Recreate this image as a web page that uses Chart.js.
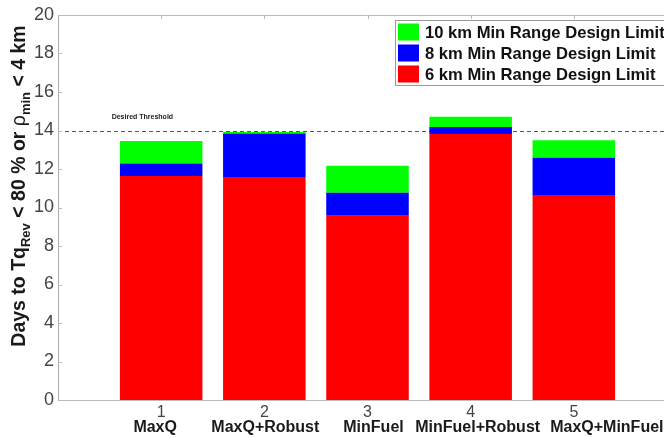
<!DOCTYPE html>
<html>
<head>
<meta charset="utf-8">
<script src="https://cdn.jsdelivr.net/npm/chart.js@4.4.1/dist/chart.umd.min.js"></script>
<style>
  html, body { margin: 0; padding: 0; background: #fff; overflow: hidden; }
  #wrap { position: relative; width: 700px; height: 438px; }
</style>
</head>
<body>
<div id="wrap"><canvas id="chart" width="700" height="438"></canvas></div>
<script>
// data
const positions = [1, 2, 3, 4, 5];
const strategies = ["MaxQ", "MaxQ+Robust", "MinFuel", "MinFuel+Robust", "MaxQ+MinFuel"];
const days6km = [11.64, 11.58, 9.57, 13.82, 10.65];   // red, bottom of stack
const extra8km = [0.65, 2.27, 1.20, 0.36, 1.94];      // blue, added on top of 6 km
const extra10km = [1.16, 0.07, 1.40, 0.54, 0.90];     // green, added on top of 8 km
const seriesNames = ["6 km Min Range Design Limit", "8 km Min Range Design Limit", "10 km Min Range Design Limit"];
const yMin = 0, yMax = 20, yStep = 2;
const xMin = 0, xMax = 6;
const threshold = 14;
const thresholdText = "Desired Threshold";

const FONT = "'Liberation Sans', Arial, Helvetica, sans-serif";
// the original figure does not centre the names exactly under the ticks
const nameShift = [-6, 1, 6, 7, 33];

function toPoints(vals) {
  return vals.map((v, i) => ({ x: positions[i], y: v }));
}

// axis title with subscripts, tick marks, names, threshold and legend box
const decorations = {
  id: "decorations",
  beforeDatasetsDraw(chart) {
    const { ctx, chartArea, scales } = chart;
    const y14 = scales.y.getPixelForValue(threshold);
    ctx.save();
    ctx.strokeStyle = "#555";
    ctx.lineWidth = 1;
    ctx.setLineDash([4, 3]);
    ctx.beginPath();
    ctx.moveTo(chartArea.left, Math.round(y14) + 0.5);
    ctx.lineTo(chartArea.right, Math.round(y14) + 0.5);
    ctx.stroke();
    ctx.setLineDash([]);

    ctx.fillStyle = "#222";
    ctx.font = "bold 7px " + FONT;
    ctx.textBaseline = "middle";
    ctx.textAlign = "left";
    ctx.fillText(thresholdText, scales.x.getPixelForValue(0.52), scales.y.getPixelForValue(14.7));

    // top frame line and inward ticks
    ctx.strokeStyle = "#bbb";
    ctx.beginPath();
    ctx.moveTo(chartArea.left, chartArea.top + 0.5);
    ctx.lineTo(chartArea.right, chartArea.top + 0.5);
    positions.forEach(p => {
      const x = Math.round(scales.x.getPixelForValue(p)) + 0.5;
      ctx.moveTo(x, chartArea.top);
      ctx.lineTo(x, chartArea.top + 4);
    });
    for (let v = yMin; v <= yMax; v += yStep) {
      const y = Math.round(scales.y.getPixelForValue(v)) + 0.5;
      ctx.moveTo(chartArea.left, y);
      ctx.lineTo(chartArea.left + 4, y);
    }
    ctx.stroke();
    ctx.restore();
  },
  afterDraw(chart) {
    const { ctx, scales } = chart;
    ctx.save();

    // strategy names under the tick numbers
    ctx.fillStyle = "#1a1a1a";
    ctx.font = "bold 16px " + FONT;
    ctx.textAlign = "center";
    ctx.textBaseline = "middle";
    strategies.forEach((name, i) => {
      ctx.fillText(name, scales.x.getPixelForValue(positions[i]) + nameShift[i], 428);
    });

    // y axis title, rotated, with subscripts
    const parts = [
      { t: "Days to Tq", f: "bold 19.5px " + FONT, dy: 0 },
      { t: "Rev", f: "bold 13px " + FONT, dy: 6 },
      { t: " < 80 % or ", f: "bold 19.5px " + FONT, dy: 0 },
      { t: "ρ", f: "19.5px " + FONT, dy: 0 },
      { t: "min", f: "bold 13px " + FONT, dy: 6 },
      { t: " < 4 km", f: "bold 19.5px " + FONT, dy: 0 }
    ];
    let total = 0;
    parts.forEach(p => { ctx.font = p.f; p.w = ctx.measureText(p.t).width; total += p.w; });
    ctx.translate(20, 186);
    ctx.rotate(-Math.PI / 2);
    ctx.textAlign = "left";
    ctx.fillStyle = "#1a1a1a";
    let x = -total / 2;
    parts.forEach(p => {
      ctx.font = p.f;
      ctx.fillText(p.t, x, p.dy);
      x += p.w;
    });
    ctx.setTransform(1, 0, 0, 1, 0, 0);

    // legend box, top item = last dataset
    const sets = chart.data.datasets.slice().reverse();
    ctx.font = "bold 16.6px " + FONT;
    const textW = Math.max(...sets.map(d => ctx.measureText(d.label).width));
    const bx = 395, by = 20, rowH = 21;
    const bw = 30 + textW + 2, bh = rowH * sets.length + 2;
    ctx.fillStyle = "#fff";
    ctx.fillRect(bx, by, bw, bh);
    ctx.strokeStyle = "#999";
    ctx.lineWidth = 1;
    ctx.strokeRect(bx + 0.5, by + 0.5, bw, bh);
    ctx.textAlign = "left";
    ctx.textBaseline = "middle";
    sets.forEach((d, i) => {
      const cy = by + 12 + i * rowH;
      ctx.fillStyle = d.backgroundColor;
      ctx.fillRect(bx + 3, cy - 8.5, 21, 17);
      ctx.fillStyle = "#111";
      ctx.fillText(d.label, bx + 30, cy + 1);
    });
    ctx.restore();
  }
};

new Chart(document.getElementById("chart"), {
  type: "bar",
  data: {
    datasets: [
      { label: seriesNames[0], data: toPoints(days6km), backgroundColor: "#ff0000" },
      { label: seriesNames[1], data: toPoints(extra8km), backgroundColor: "#0000ff" },
      { label: seriesNames[2], data: toPoints(extra10km), backgroundColor: "#00ff00" }
    ]
  },
  options: {
    responsive: false,
    animation: false,
    layout: { padding: { top: 15, right: 23, left: 0, bottom: 0 } },
    datasets: { bar: { barPercentage: 0.8, categoryPercentage: 1, borderWidth: 0 } },
    plugins: { legend: { display: false }, tooltip: { enabled: false } },
    scales: {
      x: {
        type: "linear",
        min: xMin,
        max: xMax,
        offset: false,
        stacked: true,
        grid: { display: false, drawTicks: false },
        border: { color: "#bbb", width: 1 },
        ticks: {
          stepSize: 1,
          autoSkip: false,
          maxRotation: 0,
          padding: 3,
          color: "#444",
          font: { family: FONT, size: 16 },
          callback: v => positions.includes(v) ? String(v) : ""
        },
        afterFit: s => { s.height = 38; }
      },
      y: {
        min: yMin,
        max: yMax,
        stacked: true,
        grid: { display: false, drawTicks: false },
        border: { color: "#aaa", width: 1 },
        ticks: {
          stepSize: yStep,
          padding: 4,
          color: "#444",
          font: { family: FONT, size: 18 }
        },
        afterFit: s => { s.width = 58; }
      }
    }
  },
  plugins: [decorations]
});
</script>
</body>
</html>
